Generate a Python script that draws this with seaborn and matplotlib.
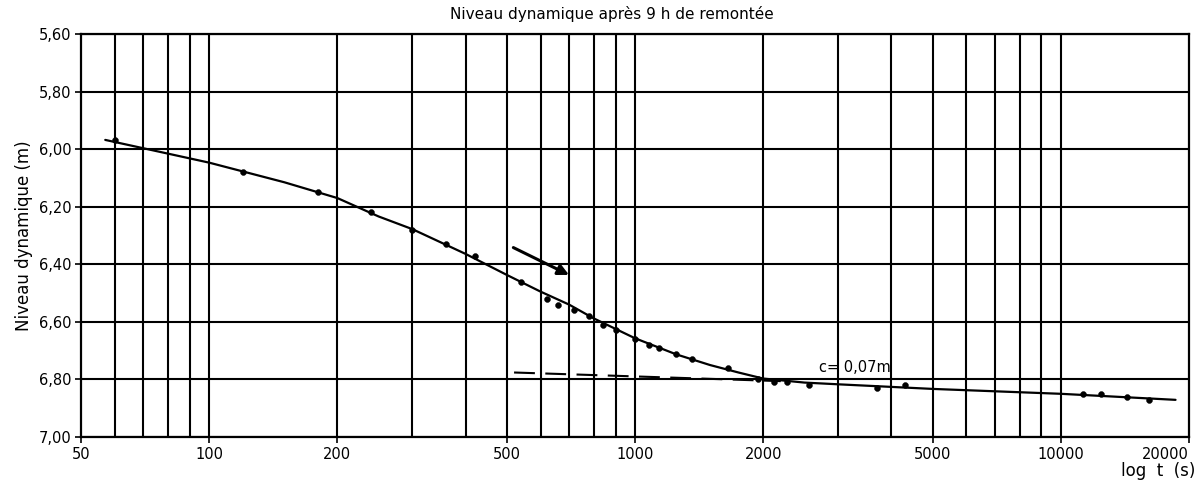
import numpy as np
import pandas as pd
import seaborn as sns
import matplotlib.pyplot as plt
from matplotlib.ticker import FixedLocator, NullLocator

# measured points (time in s, level in m)
t_points = [60, 120, 180, 240, 300, 360, 420, 540, 620, 660, 720, 780, 840, 900,
            1000, 1080, 1140, 1250, 1360, 1650, 1950, 2120, 2280, 2560, 3700, 4300,
            11300, 12400, 14300, 16100]
niveau_points = [5.97, 6.08, 6.15, 6.22, 6.28, 6.33, 6.37, 6.46, 6.52, 6.54, 6.56, 6.58,
                 6.61, 6.63, 6.66, 6.68, 6.69, 6.71, 6.73, 6.76, 6.80, 6.81, 6.81, 6.82,
                 6.83, 6.82, 6.85, 6.85, 6.86, 6.87]

# hand drawn curve
t_curve = [57, 100, 150, 200, 250, 300, 400, 500, 600, 700, 800, 1000, 1250, 1500,
           1750, 2000, 2500, 3000, 5000, 10000, 18600]
niveau_curve = [5.968, 6.047, 6.115, 6.17, 6.234, 6.278, 6.364, 6.437, 6.495, 6.540,
                6.588, 6.657, 6.713, 6.75, 6.776, 6.797, 6.811, 6.817, 6.833, 6.85, 6.871]

# dashed straight line
t_dash = [520, 2200]
niveau_dash = [6.776, 6.806]

x_ticks = [50, 100, 200, 500, 1000, 2000, 5000, 10000, 20000]
x_grid = [60, 70, 80, 90, 100, 200, 300, 400, 500, 600, 700, 800, 900, 1000,
          2000, 3000, 4000, 5000, 6000, 7000, 8000, 9000, 10000]
y_ticks = [5.6, 5.8, 6.0, 6.2, 6.4, 6.6, 6.8, 7.0]

sns.set_theme(style="white")
plt.rcParams['font.family'] = ['DejaVu Sans']
plt.rcParams['text.color'] = 'black'
plt.rcParams['axes.labelcolor'] = 'black'

fig = plt.figure(figsize=(12.04, 4.82), dpi=100)
ax = fig.add_axes([0.0673, 0.0934, 0.9202, 0.8361])

for x in x_grid:
    ax.axvline(x, color="black", lw=1.5, zorder=1)
for y in y_ticks:
    ax.axhline(y, color="black", lw=1.5, zorder=1)

curve = pd.DataFrame({"t": t_curve, "niveau": niveau_curve})
pts = pd.DataFrame({"t": t_points, "niveau": niveau_points})
sns.lineplot(data=curve, x="t", y="niveau", color="black", lw=1.6, ax=ax, zorder=3)
ax.plot(t_dash, niveau_dash, color="black", lw=1.5, dashes=(10, 5), zorder=3)
sns.scatterplot(data=pts, x="t", y="niveau", color="black", s=18, edgecolor="black",
                ax=ax, zorder=4)

ax.annotate("", xy=(700, 6.437), xytext=(518, 6.342),
            arrowprops=dict(arrowstyle="-|>", color="black", lw=2.2,
                            mutation_scale=16, shrinkA=0, shrinkB=0))
ax.text(2700, 6.785, "c= 0,07m", fontsize=10.5, color="black", ha="left", va="bottom")

ax.set_xscale("log")
ax.set_xlim(50, 20000)
ax.set_ylim(7.0, 5.6)
ax.xaxis.set_major_locator(FixedLocator(x_ticks))
ax.xaxis.set_minor_locator(NullLocator())
ax.set_xticklabels([str(v) for v in x_ticks])
ax.set_yticks(y_ticks)
ax.set_yticklabels([f"{v:.2f}".replace(".", ",") for v in y_ticks])
ax.tick_params(axis="both", direction="out", length=4, width=1.2, colors="black",
               labelsize=10.5, pad=3, bottom=True, left=True)

# last tick label ends at the right edge, as in the original
ax.get_xticklabels()[-1].set_horizontalalignment("right")

for s in ax.spines.values():
    s.set_color("black")
    s.set_linewidth(1.6)

ax.set_title("Niveau dynamique après 9 h de remontée", fontsize=11, x=0.479, pad=11)
ax.set_ylabel("Niveau dynamique (m)", fontsize=12)
ax.set_xlabel("log  t  (s)", fontsize=12, ha="right", va="center")
ax.xaxis.set_label_coords(1.0054, -0.084)

fig.savefig("out.png", dpi=100)
